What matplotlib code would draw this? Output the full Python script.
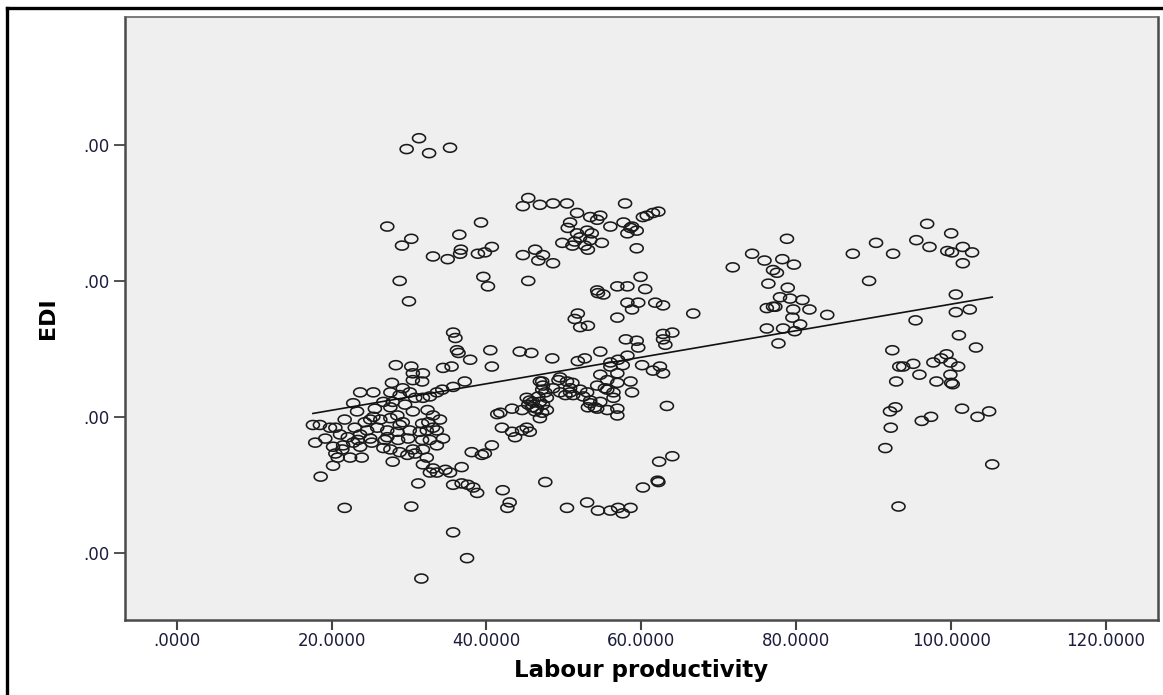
import matplotlib
matplotlib.use('Agg')
import matplotlib.pyplot as plt
import numpy as np
from matplotlib.lines import Line2D
from matplotlib.markers import MarkerStyle
from matplotlib.path import Path

# Labour productivity (x) and EDI (y)
productivity = [
    31.3, 29.7, 32.6, 27.2, 30.3, 29.1, 33.1, 28.8, 30.0,
    28.3, 30.3, 31.8, 30.5, 30.5, 31.7, 27.8, 23.7, 25.4, 22.8,
    23.3, 25.6, 27.6, 28.8, 27.9, 29.5, 26.7, 30.1, 30.8, 31.8,
    32.7, 33.6, 30.5, 32.4, 33.1, 32.5, 31.7, 25.0, 26.3, 27.6,
    28.5, 29.2, 17.6, 18.5, 19.8, 20.5, 23.0, 24.6, 25.9, 27.2,
    28.5, 30.1, 31.4, 32.3, 33.1, 21.1, 22.1, 23.7, 25.0, 27.2,
    28.6, 29.9, 31.7, 32.7, 17.9, 19.2, 20.2, 21.5, 22.8, 23.7,
    25.2, 26.7, 27.6, 28.8, 30.5, 31.8, 33.6, 20.5, 20.8, 22.4,
    23.9, 27.9, 30.8, 32.3, 20.2, 18.6, 31.8, 33.1, 32.7, 33.6,
    31.2, 21.7, 30.3, 21.4, 24.3, 29.2, 31.6,
    27.6, 25.4, 28.8, 33.6, 26.9, 23.4, 29.8, 21.7,
    35.3, 39.3, 36.5, 40.7, 36.7, 36.6, 35.0, 38.9, 39.8, 39.6,
    40.2, 35.7, 36.0, 36.2, 36.4, 37.9, 40.5, 40.7, 34.4, 35.5,
    37.2, 35.7, 34.3, 41.4, 38.1, 39.4, 39.8, 40.7, 36.8, 34.7,
    35.3, 35.7, 36.8, 37.6, 38.3, 38.8, 34.0, 34.4, 35.7, 37.5,
    45.4, 44.7, 46.9, 48.6, 50.4, 57.9, 60.2, 61.5, 62.2, 60.7,
    51.7, 53.4, 54.7, 54.3, 50.8, 50.5, 51.7, 53.0, 53.6, 53.4,
    52.1, 51.4, 52.7, 53.1, 49.8, 51.1, 54.9, 56.0, 57.7, 58.6,
    59.4, 58.2, 58.8, 59.4, 44.7, 46.3, 47.3, 46.7, 48.6, 45.4,
    59.9, 60.5, 54.3, 54.4, 55.1, 56.9, 58.2, 58.2, 58.8, 59.6,
    61.8, 62.8, 66.7, 51.8, 51.4, 52.1, 53.1, 56.9, 58.0, 59.4,
    59.6, 62.8, 64.0, 63.1, 62.8, 44.3, 45.8, 48.5, 51.8, 52.7,
    54.7, 56.0, 57.0, 58.2, 57.6, 60.1, 61.5, 62.4, 62.8, 56.0,
    56.9, 54.7, 55.6, 56.9, 58.6, 58.8, 56.4, 55.6, 54.3, 53.0,
    52.1, 50.8, 50.4, 49.5, 47.2, 46.9, 47.3, 47.2, 47.6, 46.7,
    47.8, 46.9, 47.3, 46.5, 47.8, 47.2, 46.9, 46.0, 45.6, 45.9,
    46.3, 48.6, 49.3, 51.1, 50.8, 51.2, 52.5, 53.4, 54.0, 54.7,
    55.6, 55.3, 49.5, 50.2, 53.4, 53.1, 54.3, 56.9, 56.9, 56.4,
    63.3, 43.3, 44.6, 45.4, 45.2, 41.8, 42.0, 43.3, 43.7, 44.6,
    45.2, 45.6, 64.0, 62.3, 62.1, 62.2, 60.2, 47.6, 42.1, 43.0,
    42.7, 50.4, 53.0, 54.4, 56.0, 57.0, 57.6, 58.6,
    71.8, 74.3, 75.9, 78.2, 78.8, 79.7, 77.0, 77.5, 76.4, 78.9,
    77.9, 79.2, 80.8, 81.7, 76.2, 77.0, 77.3, 79.6, 79.5, 80.5,
    84.0, 76.2, 78.3, 79.8, 77.7, 87.3, 90.3, 92.5, 89.4, 95.5,
    96.9, 97.2, 100.0, 99.5, 100.1, 101.5, 102.7, 101.5, 100.6, 95.4,
    100.6, 102.4, 101.0, 103.2, 92.4, 93.3, 93.8, 95.1, 95.9, 92.9,
    97.7, 98.7, 99.4, 99.9, 100.9, 99.9, 98.1, 100.2, 100.0, 92.8,
    92.1, 92.2, 96.2, 97.4, 101.4, 103.4, 104.9, 91.5, 105.3, 93.2,
]
edi = [
    3.05, 2.97, 2.94, 2.40, 2.31, 2.26, 2.18, 2.00, 1.85,
    1.38, 1.37, 1.32, 1.32, 1.27, 1.26, 1.25, 1.18, 1.18, 1.10,
    1.04, 1.06, 1.18, 1.16, 1.11, 1.09, 1.11, 1.18, 1.14, 1.14,
    1.15, 1.18, 1.04, 1.05, 1.01, 0.96, 0.95, 0.98, 0.98, 0.99,
    1.01, 0.96, 0.94, 0.94, 0.92, 0.92, 0.92, 0.90, 0.92, 0.90,
    0.89, 0.90, 0.89, 0.90, 0.92, 0.87, 0.85, 0.87, 0.84, 0.85,
    0.83, 0.84, 0.83, 0.83, 0.81, 0.84, 0.78, 0.79, 0.81, 0.78,
    0.81, 0.77, 0.76, 0.74, 0.76, 0.76, 0.79, 0.73, 0.70, 0.70,
    0.70, 0.67, 0.73, 0.70, 0.64, 0.56, 0.65, 0.62, 0.59, 0.59,
    0.51, 0.33, 0.34, 0.76, 0.96, 1.21, -0.19,
    1.07, 1.00, 0.94, 0.90, 0.83, 0.83, 0.72, 0.98,
    2.98, 2.43, 2.34, 2.25, 2.23, 2.20, 2.16, 2.20, 2.21, 2.03,
    1.96, 1.62, 1.58, 1.49, 1.47, 1.42, 1.49, 1.37, 1.36, 1.37,
    1.26, 1.22, 1.20, 1.02, 0.74, 0.72, 0.73, 0.79, 0.63, 0.61,
    0.59, 0.50, 0.51, 0.50, 0.48, 0.44, 0.98, 0.84, 0.15, -0.04,
    2.61, 2.55, 2.56, 2.57, 2.57, 2.57, 2.47, 2.50, 2.51, 2.48,
    2.50, 2.47, 2.48, 2.45, 2.43, 2.39, 2.35, 2.37, 2.35, 2.30,
    2.32, 2.29, 2.26, 2.23, 2.28, 2.26, 2.28, 2.40, 2.43, 2.39,
    2.37, 2.35, 2.40, 2.24, 2.19, 2.23, 2.19, 2.15, 2.13, 2.00,
    2.03, 1.94, 1.93, 1.91, 1.90, 1.96, 1.96, 1.84, 1.79, 1.84,
    1.84, 1.82, 1.76, 1.76, 1.72, 1.66, 1.67, 1.73, 1.57, 1.56,
    1.51, 1.61, 1.62, 1.53, 1.57, 1.48, 1.47, 1.43, 1.41, 1.43,
    1.48, 1.40, 1.42, 1.45, 1.38, 1.38, 1.34, 1.37, 1.32, 1.37,
    1.32, 1.31, 1.27, 1.25, 1.26, 1.18, 1.18, 1.20, 1.23, 1.18,
    1.20, 1.21, 1.26, 1.29, 1.26, 1.26, 1.23, 1.20, 1.18, 1.15,
    1.14, 1.11, 1.09, 1.06, 1.05, 1.03, 0.99, 1.11, 1.12, 1.07,
    1.04, 1.21, 1.27, 1.25, 1.18, 1.16, 1.15, 1.10, 1.07, 1.11,
    1.05, 1.21, 1.18, 1.16, 1.12, 1.07, 1.06, 1.06, 1.01, 1.14,
    1.08, 1.06, 1.05, 1.09, 1.14, 1.03, 0.92, 0.89, 0.85, 0.90,
    0.92, 0.89, 0.71, 0.67, 0.53, 0.52, 0.48, 0.52, 0.46, 0.37,
    0.33, 0.33, 0.37, 0.31, 0.31, 0.33, 0.29, 0.33,
    2.10, 2.20, 2.15, 2.16, 2.31, 2.12, 2.08, 2.06, 1.98, 1.95,
    1.88, 1.87, 1.86, 1.79, 1.80, 1.81, 1.81, 1.79, 1.73, 1.68,
    1.75, 1.65, 1.65, 1.63, 1.54, 2.20, 2.28, 2.20, 2.00, 2.30,
    2.42, 2.25, 2.35, 2.22, 2.21, 2.25, 2.21, 2.13, 1.90, 1.71,
    1.77, 1.79, 1.60, 1.51, 1.49, 1.37, 1.37, 1.39, 1.31, 1.26,
    1.40, 1.43, 1.46, 1.40, 1.37, 1.31, 1.26, 1.24, 1.25, 1.07,
    1.04, 0.92, 0.97, 1.00, 1.06, 1.00, 1.04, 0.77, 0.65, 0.34,
]

# linear fit line shown on the chart
fit_intercept = 0.853
fit_slope = 0.00976

x_ticks = [0, 20, 40, 60, 80, 100, 120]
x_tick_labels = ['.0000', '20.0000', '40.0000', '60.0000', '80.0000', '100.0000', '120.0000']
y_ticks = [0, 1, 2, 3]
y_tick_labels = ['.00', '.00', '.00', '.00']

x = np.array(productivity)
y = np.array(edi)
assert len(x) == len(y)

W, H = 1163, 695
fig = plt.figure(figsize=(W / 100, H / 100), dpi=100)
ax = fig.add_axes([125 / W, 1 - 620 / H, (1158 - 125) / W, (620 - 17) / H])
ax.set_facecolor('#efefef')

# slightly wide open circles, like the stretched original
t = np.linspace(0, 2 * np.pi, 40)
ellipse = Path(np.column_stack([1.45 * np.cos(t), np.sin(t)]), closed=True)
ax.scatter(x, y, s=88, marker=MarkerStyle(ellipse), facecolors='none',
           edgecolors='#1a1a1a', linewidths=1.15, zorder=3)

xs = np.array([x.min(), x.max()])
ax.plot(xs, fit_intercept + fit_slope * xs, color='#111111', lw=1.2, zorder=4)

ax.set_xlim(-6.66, 126.7)
ax.set_ylim(-0.495, 3.942)
ax.set_xticks(x_ticks)
ax.set_xticklabels(x_tick_labels)
ax.set_yticks(y_ticks)
ax.set_yticklabels(y_tick_labels)

for side in ['left', 'bottom', 'right', 'top']:
    ax.spines[side].set_color('#4a4a4a')
    ax.spines[side].set_linewidth(1.8)
ax.spines['top'].set_linewidth(1.2)
ax.spines['top'].set_color('#666666')

ax.tick_params(axis='x', length=7, width=1.5, color='#444444', pad=2,
               labelsize=12, labelcolor='#1c1c3c')
ax.tick_params(axis='y', length=8, width=1.3, color='#444444', pad=3,
               labelsize=12, labelcolor='#1c1c3c')

ax.set_xlabel('Labour productivity', fontsize=16.5, fontweight='bold', labelpad=6)
ax.set_ylabel('EDI', fontsize=16, fontweight='bold', labelpad=18)

# outer frame, only left and top edges visible
fig.add_artist(Line2D([7 / W, 7 / W], [0, 1 - 7.5 / H], color='black', lw=2.4))
fig.add_artist(Line2D([7 / W, 1], [1 - 7.5 / H, 1 - 7.5 / H], color='black', lw=2.4))

fig.savefig('out.png', dpi=100)
